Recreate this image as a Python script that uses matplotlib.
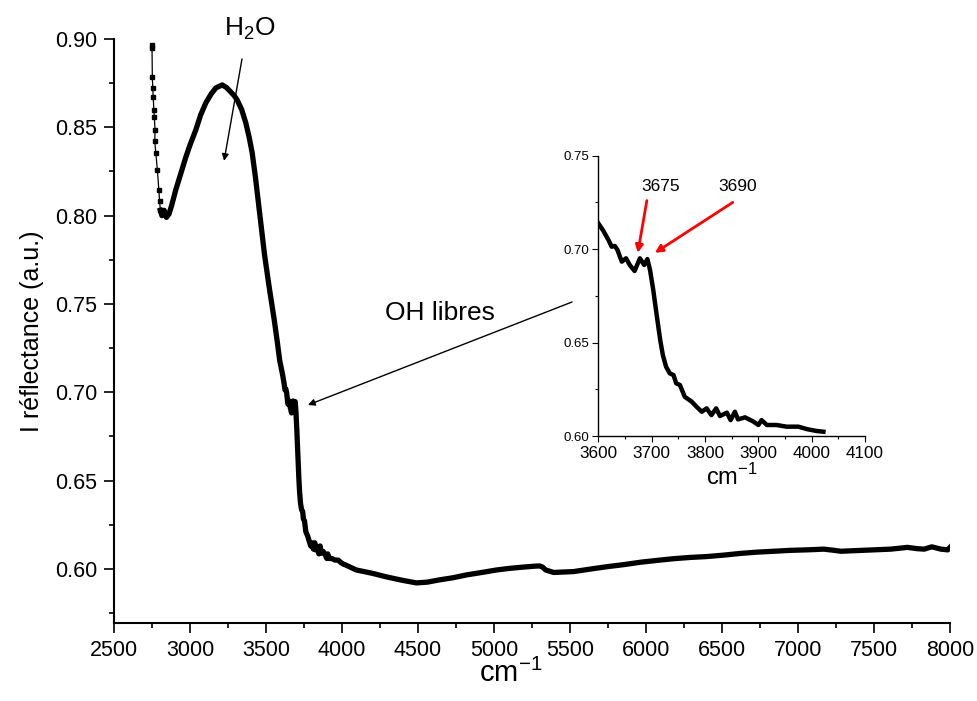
import numpy as np
import matplotlib.pyplot as plt
from matplotlib.ticker import MultipleLocator

plt.rcParams['font.family'] = ['Liberation Sans', 'DejaVu Sans']
plt.rcParams['mathtext.fontset'] = 'custom'
plt.rcParams['mathtext.rm'] = 'Liberation Sans'

# spectrum, in three pieces
low_wn = [2750, 2750, 2752, 2755, 2758, 2762, 2765, 2770, 2768, 2775, 2785, 2795,
          2800, 2805, 2815, 2830, 2845, 2862, 2880, 2906, 2940, 2972, 3000, 3038,
          3070, 3104, 3140, 3170, 3212, 3240, 3268, 3290, 3310, 3340, 3367, 3390,
          3409, 3430, 3460, 3490, 3520, 3554, 3575, 3590]
low_r = [0.8966, 0.895, 0.8785, 0.872, 0.867, 0.860, 0.856, 0.8485, 0.842, 0.8355,
         0.826, 0.8145, 0.808, 0.803, 0.800, 0.803, 0.799, 0.801, 0.806, 0.8145,
         0.824, 0.833, 0.840, 0.8485, 0.857, 0.8638, 0.869, 0.8723, 0.874, 0.8725,
         0.870, 0.868, 0.8655, 0.860, 0.8525, 0.844, 0.8355, 0.822, 0.800, 0.778,
         0.760, 0.741, 0.728, 0.718]

oh_wn = [3600, 3609, 3619, 3625, 3631, 3636, 3644, 3652, 3659, 3668, 3678, 3686,
         3692, 3697, 3703, 3709, 3716, 3721, 3727, 3734, 3741, 3746, 3753, 3762,
         3775, 3784, 3794, 3803, 3812, 3821, 3828, 3841, 3848, 3856, 3862, 3875,
         3891, 3900, 3906, 3916, 3934, 3953, 3975, 3991, 4009, 4022]
oh_r = [0.7138, 0.710, 0.7049, 0.7013, 0.7017, 0.6995, 0.6933, 0.6951, 0.6915,
        0.6883, 0.6951, 0.6915, 0.6947, 0.6888, 0.6781, 0.6656, 0.6514, 0.6433,
        0.6371, 0.6335, 0.6326, 0.6282, 0.6273, 0.621, 0.6184, 0.6157, 0.613,
        0.6148, 0.6112, 0.6148, 0.6107, 0.6125, 0.6085, 0.613, 0.6089, 0.610,
        0.6077, 0.6059, 0.6085, 0.6059, 0.6059, 0.605, 0.605, 0.6037, 0.6027, 0.6023]

high_wn = [4094, 4200, 4292, 4400, 4489, 4560, 4641, 4730, 4818, 4920, 5016, 5100,
           5188, 5260, 5300, 5320, 5340, 5392, 5524, 5640, 5747, 5860, 5964, 6070,
           6182, 6290, 6400, 6510, 6623, 6730, 6840, 6946, 7060, 7170, 7230, 7282,
           7390, 7500, 7610, 7720, 7780, 7830, 7880, 7940, 7985, 8000]
high_r = [0.5994, 0.5975, 0.5955, 0.5935, 0.5921, 0.5925, 0.5938, 0.5950, 0.5966,
          0.598, 0.5994, 0.6003, 0.601, 0.6015, 0.6017, 0.6010, 0.5994, 0.5980,
          0.5985, 0.6000, 0.6013, 0.6025, 0.6038, 0.6048, 0.6058, 0.6065, 0.607,
          0.6078, 0.6088, 0.6095, 0.6100, 0.6105, 0.6108, 0.6112, 0.6106, 0.6100,
          0.6104, 0.6108, 0.6112, 0.6122, 0.6115, 0.6112, 0.6125, 0.6112, 0.6108, 0.6122]

wn = np.array(low_wn + oh_wn + high_wn)
refl = np.array(low_r + oh_r + high_r)
n_spike = 14  # first points drawn as symbols on a thin line


def style_axes(ax, lw, major_len, minor_len):
    ax.spines['top'].set_visible(False)
    ax.spines['right'].set_visible(False)
    for s in ('left', 'bottom'):
        ax.spines[s].set_linewidth(lw)
    ax.tick_params(which='major', direction='out', length=major_len, width=lw * 0.8)
    ax.tick_params(which='minor', direction='out', length=minor_len, width=lw * 0.8)


fig = plt.figure(figsize=(9.77, 7.01), dpi=100)
ax = fig.add_axes([0.1167, 0.1113, 0.8557, 0.8331])

ax.plot(wn[:n_spike], refl[:n_spike], color='black', lw=0.9, marker='s',
        ms=3.5, mec='black', mfc='black')
ax.plot(wn[n_spike - 1:], refl[n_spike - 1:], color='black', lw=3.8,
        solid_joinstyle='round')

ax.set_xlim(2500, 8000)
ax.set_ylim(0.5694, 0.90)
ax.xaxis.set_major_locator(MultipleLocator(500))
ax.xaxis.set_minor_locator(MultipleLocator(250))
ax.yaxis.set_major_locator(MultipleLocator(0.05))
ax.yaxis.set_minor_locator(MultipleLocator(0.025))
ax.yaxis.set_major_formatter(plt.FormatStrFormatter('%.2f'))
style_axes(ax, 1.5, 7, 3.8)
ax.tick_params(labelsize=15.5, pad=5)
ax.set_xlabel('cm$^{\\mathregular{-1}}$', fontsize=21)
ax.xaxis.set_label_coords(0.475, -0.062)
ax.xaxis.label.set_va('top')
ax.set_ylabel('I réflectance (a.u.)', fontsize=18, labelpad=8)

ax.annotate('', xy=(3224, 0.831), xytext=(3342, 0.8887),
            arrowprops=dict(arrowstyle='-|>', color='black', lw=1.0,
                            mutation_scale=10, shrinkA=0, shrinkB=0))
ax.text(3395, 0.906, 'H$_\\mathregular{2}$O', fontsize=19, ha='center',
        va='center', clip_on=False)
ax.annotate('', xy=(3776, 0.6928), xytext=(5513, 0.7511),
            arrowprops=dict(arrowstyle='-|>', color='black', lw=1.0,
                            mutation_scale=10, shrinkA=0, shrinkB=0))
ax.text(4645, 0.745, 'OH libres', fontsize=19, ha='center', va='center')

# inset
ins = fig.add_axes([0.6124, 0.378, 0.273, 0.3999])
ins.patch.set_alpha(0)
ins.plot(oh_wn, oh_r, color='black', lw=3.2, solid_joinstyle='round')
ins.set_xlim(3600, 4100)
ins.set_ylim(0.60, 0.75)
ins.xaxis.set_major_locator(MultipleLocator(100))
ins.xaxis.set_minor_locator(MultipleLocator(50))
ins.yaxis.set_major_locator(MultipleLocator(0.05))
ins.yaxis.set_minor_locator(MultipleLocator(0.025))
ins.yaxis.set_major_formatter(plt.FormatStrFormatter('%.2f'))
style_axes(ins, 1.0, 4.5, 2.5)
ins.tick_params(axis='x', labelsize=12.3, pad=3)
ins.tick_params(axis='y', labelsize=9.5, pad=2)
ins.set_xlabel('cm$^{\\mathregular{-1}}$', fontsize=17, labelpad=2)

for txt, tip, tail, pos in [('3675', (3674, 0.698), (3691, 0.726), (3716, 0.7334)),
                            ('3690', (3706, 0.698), (3852, 0.725), (3861, 0.7334))]:
    ins.annotate('', xy=tip, xytext=tail,
                 arrowprops=dict(arrowstyle='-|>', color='red', lw=2.0,
                                 mutation_scale=11, shrinkA=0, shrinkB=0))
    ins.text(pos[0], pos[1], txt, fontsize=12.5, ha='center', va='center')

fig.savefig('out.png', dpi=100)
